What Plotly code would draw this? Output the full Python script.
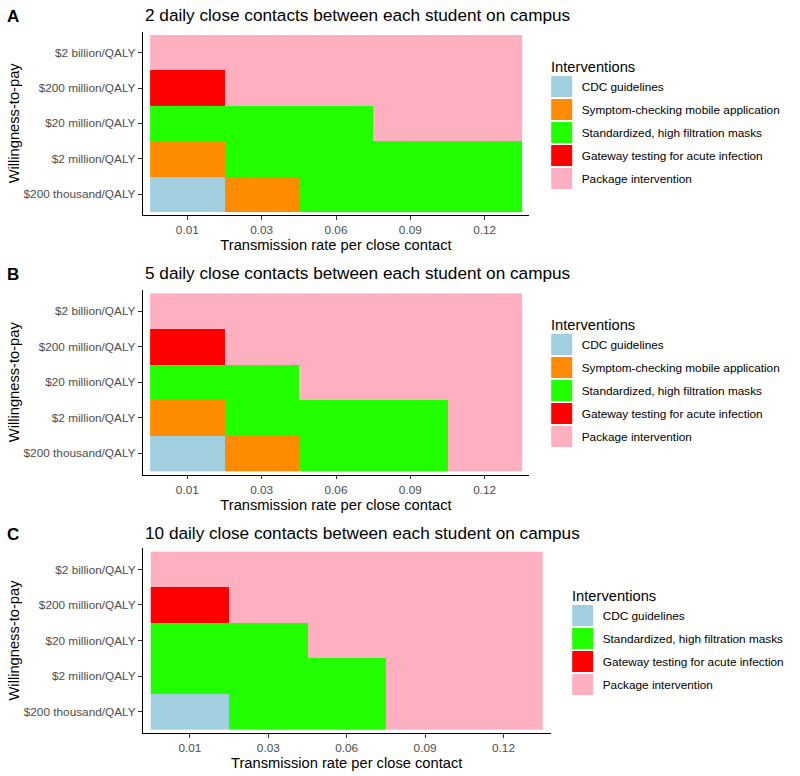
import plotly.graph_objects as go

# ---------------- data ----------------
x_labels = ["0.01", "0.03", "0.06", "0.09", "0.12"]
y_labels = ["$200 thousand/QALY", "$2 million/QALY", "$20 million/QALY",
            "$200 million/QALY", "$2 billion/QALY"]  # bottom -> top

interventions = ["CDC guidelines",
                 "Symptom-checking mobile application",
                 "Standardized, high filtration masks",
                 "Gateway testing for acute infection",
                 "Package intervention"]
colors = ["#A1CFE0", "#FF8C00", "#22FF00", "#FF0000", "#FFB0C0"]

# optimal intervention per cell; rows = y_labels (bottom -> top), cols = x_labels
# C = CDC, S = Symptom app, M = Masks, G = Gateway testing, P = Package
panel_a = [["C", "S", "M", "M", "M"],
           ["S", "M", "M", "M", "M"],
           ["M", "M", "M", "P", "P"],
           ["G", "P", "P", "P", "P"],
           ["P", "P", "P", "P", "P"]]
panel_b = [["C", "S", "M", "M", "P"],
           ["S", "M", "M", "M", "P"],
           ["M", "M", "P", "P", "P"],
           ["G", "P", "P", "P", "P"],
           ["P", "P", "P", "P", "P"]]
panel_c = [["C", "M", "M", "P", "P"],
           ["M", "M", "M", "P", "P"],
           ["M", "M", "P", "P", "P"],
           ["G", "P", "P", "P", "P"],
           ["P", "P", "P", "P", "P"]]

titles = ["2 daily close contacts between each student on campus",
          "5 daily close contacts between each student on campus",
          "10 daily close contacts between each student on campus"]
letters = ["A", "B", "C"]
legend_sets = [[0, 1, 2, 3, 4], [0, 1, 2, 3, 4], [0, 2, 3, 4]]

code_index = {"C": 0, "S": 1, "M": 2, "G": 3, "P": 4}

# ---------------- layout geometry (pixels) ----------------
W, H = 800, 776
FONT = "Liberation Sans, Arial, Helvetica, sans-serif"
# [x0, x1] and [ytop, ybottom] of the axes box in pixels
boxes = [((142.7, 529.3), (31.5, 215.2)),
         ((142.7, 529.3), (289.8, 474.6)),
         ((142.9, 550.5), (548.1, 732.9))]
legend_pos = [(541.7, 53), (541.7, 311), (562.7, 582)]
title_y = [15, 273, 533]

scale = []
n = len(interventions)
for i, c in enumerate(colors):
    scale.append([i / n, c])
    scale.append([(i + 1) / n, c])

fig = go.Figure()
panels = [panel_a, panel_b, panel_c]
layout = dict(template="none", width=W, height=H,
              margin=dict(l=0, r=0, t=0, b=0, autoexpand=False),
              paper_bgcolor="white", plot_bgcolor="white",
              font=dict(family=FONT, color="black"), annotations=[])

for p, grid in enumerate(panels):
    sfx = "" if p == 0 else str(p + 1)
    xa, ya = "x" + sfx, "y" + sfx
    z = [[code_index[v] for v in row] for row in grid]
    fig.add_trace(go.Heatmap(
        x=x_labels, y=y_labels, z=z, xaxis=xa, yaxis=ya,
        colorscale=scale, zmin=-0.5, zmax=n - 0.5, showscale=False,
        hoverinfo="skip"))
    leg = "legend" if p == 0 else "legend" + str(p + 1)
    for k in legend_sets[p]:
        fig.add_trace(go.Scatter(
            x=[None], y=[None], xaxis=xa, yaxis=ya, mode="markers",
            name=interventions[k], legend=leg, legendgroup=f"{p}-{k}",
            marker=dict(symbol="square", size=16, color=colors[k],
                        line=dict(color=colors[k], width=5)),
            showlegend=True))

    (x0, x1), (yt, yb) = boxes[p]
    axis_common = dict(type="category", range=[-0.6, 4.6], showline=True,
                       linecolor="black", linewidth=1.3, mirror=False,
                       ticks="outside", ticklen=3.7, tickwidth=1.1,
                       tickcolor="#333333", showgrid=False, zeroline=False,
                       automargin=False,
                       tickfont=dict(size=11.8, color="#4D4D4D", family=FONT),
                       fixedrange=True)
    layout["xaxis" + sfx] = dict(
        axis_common, domain=[x0 / W, x1 / W], anchor=ya,
        categoryorder="array", categoryarray=x_labels,
        title=dict(text="Transmission rate per close contact",
                   font=dict(size=14.7, color="black", family=FONT),
                   standoff=0))
    layout["yaxis" + sfx] = dict(
        axis_common, domain=[1 - yb / H, 1 - yt / H], anchor=xa,
        categoryorder="array", categoryarray=y_labels,
        title=dict(text="Willingness-to-pay",
                   font=dict(size=14.7, color="black", family=FONT),
                   standoff=0))
    lx, ly = legend_pos[p]
    layout[leg] = dict(
        x=lx / W, y=1 - ly / H, xanchor="left", yanchor="top",
        bgcolor="rgba(0,0,0,0)", borderwidth=0,
        title=dict(text="\u2002Interventions",
                   font=dict(size=14.7, color="black", family=FONT)),
        font=dict(size=11.8, color="black", family=FONT),
        traceorder="grouped", tracegroupgap=4, itemclick=False,
        itemdoubleclick=False)
    layout["annotations"].append(dict(
        text=titles[p], x=143 / W, y=1 - title_y[p] / H, xref="paper",
        yref="paper", xanchor="left", yanchor="middle", showarrow=False,
        font=dict(size=17.2, color="black", family=FONT)))
    layout["annotations"].append(dict(
        text="<b>" + letters[p] + "</b>", x=5 / W, y=1 - (title_y[p] + 1) / H,
        xref="paper", yref="paper", xanchor="left", yanchor="middle",
        showarrow=False, font=dict(size=17, color="black", family=FONT)))

fig.update_layout(**layout)
fig.write_html("out.html",
               config={"displayModeBar": False},
               post_script="document.body.style.margin='0';"
                           "document.body.style.overflow='hidden';")
